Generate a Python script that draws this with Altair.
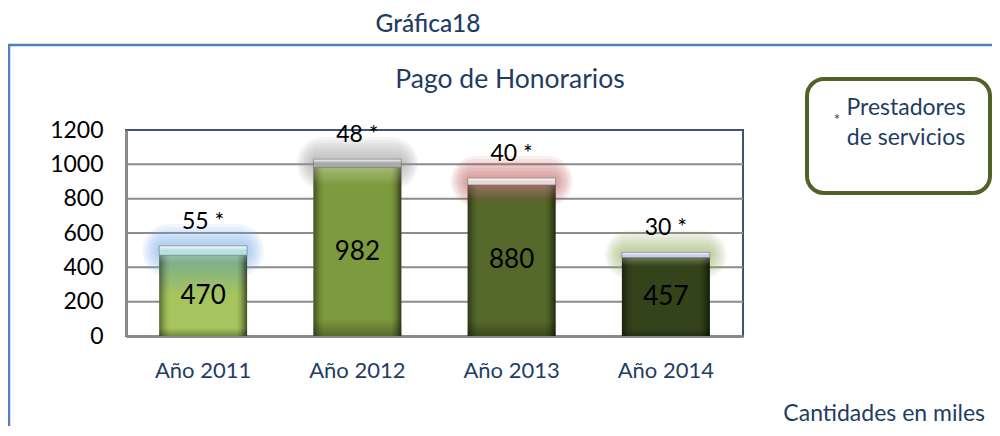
import altair as alt
import pandas as pd

# ---- data ----
years = ["Año 2011", "Año 2012", "Año 2013", "Año 2014"]
pagos = [470, 982, 880, 457]          # Pago de honorarios (miles)
prestadores = [55, 48, 40, 30]        # * Prestadores de servicios
y_ticks = [0, 200, 400, 600, 800, 1000, 1200]
grid_ticks = [200, 400, 600, 800, 1000]

# ---- styles ----
FONT = "Lato"
NAVY = "#1F3D63"
main_top = ["#77ab92", "#8aa54a", "#7a4a36", "#46562a"]
main_bottom = ["#a6c55e", "#7d9a3e", "#55692a", "#33431a"]
fade_at = [0.5, 0.12, 0.12, 0.12]
cap_colors = ["#b6e0e4", "#a9a9a9", "#ecd6d6", "#c8d0f2"]
glow_colors = ["#6aa6ee", "#8c8c8c", "#c0504d", "#8ea455"]

df = pd.DataFrame({"year": years, "pago": pagos, "prest": prestadores})
df["total"] = df["pago"] + df["prest"]
df["mid"] = df["pago"] / 2
df["lbl"] = df["prest"].astype(str) + " *"

W, H = 617, 206

x = alt.X("year:N", sort=years, title=None,
          scale=alt.Scale(paddingInner=0.43, paddingOuter=0.215),
          axis=alt.Axis(labelAngle=0, ticks=False, tickSize=0, labelPadding=41,
                        labelBaseline="alphabetic", labelFont=FONT, labelFontSize=22,
                        labelColor=NAVY, domainColor="#8a8a8a", domainWidth=3,
                        grid=False))
y_scale = alt.Scale(domain=[0, 1200], nice=False)
y_axis = alt.Axis(values=y_ticks, format="d", labelOverlap=False, ticks=False,
                  tickSize=0, labelPadding=23, labelFont=FONT, labelFontSize=23,
                  labelColor="#000000", domainColor="#8a8a8a", domainWidth=3,
                  grid=False)


def Y(field):
    return alt.Y(field, scale=y_scale, axis=y_axis, title=None)


base = alt.Chart(df)
glow_scale = alt.Scale(domain=years, range=glow_colors)

layers = []
# horizontal gridlines
layers.append(
    alt.Chart(pd.DataFrame({"v": grid_ticks})).mark_rule(color="#8c8c8c", strokeWidth=2)
    .encode(y=Y("v:Q"))
)

# glow halos around the caps
for k in range(7):
    pad = 4 + 3 * k
    bw = 1.08 + 0.05 * k
    layers.append(
        base.mark_bar(width={"band": bw}, yOffset=-pad, y2Offset=pad,
                      cornerRadius=pad + 4, opacity=0.09)
        .encode(x=x, y=Y("total:Q"), y2="pago:Q",
                color=alt.Color("year:N", scale=glow_scale, legend=None))
    )

# main bars (gradient per bar)
for i, yr in enumerate(years):
    grad = alt.Gradient(gradient="linear", x1=0, x2=0, y1=0, y2=1,
                        stops=[alt.GradientStop(color=main_top[i], offset=0),
                               alt.GradientStop(color=main_bottom[i], offset=fade_at[i]),
                               alt.GradientStop(color=main_bottom[i], offset=1)])
    layers.append(
        base.transform_filter(alt.datum.year == yr)
        .mark_bar(fill=grad)
        .encode(x=x, y=Y("pago:Q"))
    )

# bevel overlays
bev_h = alt.Gradient(gradient="linear", x1=0, x2=1, y1=0, y2=0,
                     stops=[alt.GradientStop(color="rgba(0,0,0,0.45)", offset=0),
                            alt.GradientStop(color="rgba(0,0,0,0.12)", offset=0.07),
                            alt.GradientStop(color="rgba(0,0,0,0)", offset=0.12),
                            alt.GradientStop(color="rgba(0,0,0,0)", offset=0.88),
                            alt.GradientStop(color="rgba(0,0,0,0.15)", offset=0.93),
                            alt.GradientStop(color="rgba(0,0,0,0.6)", offset=1)])
bev_v = alt.Gradient(gradient="linear", x1=0, x2=0, y1=0, y2=1,
                     stops=[alt.GradientStop(color="rgba(255,255,255,0.22)", offset=0),
                            alt.GradientStop(color="rgba(255,255,255,0)", offset=0.1),
                            alt.GradientStop(color="rgba(0,0,0,0)", offset=0.9),
                            alt.GradientStop(color="rgba(0,0,0,0.3)", offset=1)])
for g in (bev_h, bev_v):
    layers.append(base.mark_bar(fill=g).encode(x=x, y=Y("pago:Q")))

# caps: prestadores stacked on top
for i, yr in enumerate(years):
    cap_grad = alt.Gradient(gradient="linear", x1=0, x2=0, y1=0, y2=1,
                            stops=[alt.GradientStop(color="#ffffff", offset=0),
                                   alt.GradientStop(color=cap_colors[i], offset=0.45),
                                   alt.GradientStop(color=cap_colors[i], offset=1)])
    layers.append(
        base.transform_filter(alt.datum.year == yr)
        .mark_bar(fill=cap_grad, stroke="#6b6b6b", strokeWidth=0.6)
        .encode(x=x, y=Y("total:Q"), y2="pago:Q")
    )

# value labels
layers.append(
    base.mark_text(font=FONT, fontSize=26, color="#000000", baseline="middle")
    .encode(x=x, y=Y("mid:Q"), text="pago:Q")
)
layers.append(
    base.mark_text(font=FONT, fontSize=23, color="#000000", baseline="middle", dy=-24)
    .encode(x=x, y=Y("total:Q"), text="lbl:N")
)

# ---- decorations (view-pixel coordinates) ----
frame = alt.Chart(pd.DataFrame({"k": [0]}))
layers.append(frame.mark_rule(color="#4F81BD", strokeWidth=2.5)
              .encode(x=alt.value(-118), x2=alt.value(880), y=alt.value(-85)))
layers.append(frame.mark_rule(color="#4F81BD", strokeWidth=2.5)
              .encode(x=alt.value(-117), y=alt.value(-85), y2=alt.value(310)))
layers.append(frame.mark_rect(fill="white", stroke="#4F6228", strokeWidth=4,
                              cornerRadius=17)
              .encode(x=alt.value(681), x2=alt.value(864),
                      y=alt.value(-51), y2=alt.value(63)))

texts = pd.DataFrame({
    "t": ["Gráfica18", "Pago de Honorarios", "Prestadores", "de servicios",
          "Cantidades en miles"],
})
specs = [
    (0, 302, -98, 24.5, "center", 500),
    (1, 384, -42, 26.5, "center", 400),
    (2, 780, -15, 23, "center", 400),
    (3, 780, 15, 23, "center", 400),
]
for idx, px, py, fs, al, fw in specs:
    layers.append(
        alt.Chart(texts.iloc[[idx]]).mark_text(font=FONT, fontSize=fs, color=NAVY,
                                               align=al, baseline="alphabetic",
                                               fontWeight=fw)
        .encode(x=alt.value(px), y=alt.value(py), text="t:N")
    )
layers.append(
    alt.Chart(texts.iloc[[4]]).mark_text(font=FONT, fontSize=23, color=NAVY,
                                         align="right", baseline="alphabetic")
    .encode(x=alt.value(859), y=alt.value(291), text="t:N")
)
layers.append(
    frame.mark_text(font=FONT, fontSize=15, color=NAVY, text="*")
    .encode(x=alt.value(711), y=alt.value(-10))
)

chart = alt.layer(*layers).properties(
    width=W, height=H,
    autosize=alt.AutoSizeParams(type="none"),
    padding={"left": 118, "top": 122, "right": 249, "bottom": 90},
    background="white",
).configure_view(stroke="#3B5478", strokeWidth=2)

chart.save("out.html", embed_options={"renderer": "svg", "actions": False})
